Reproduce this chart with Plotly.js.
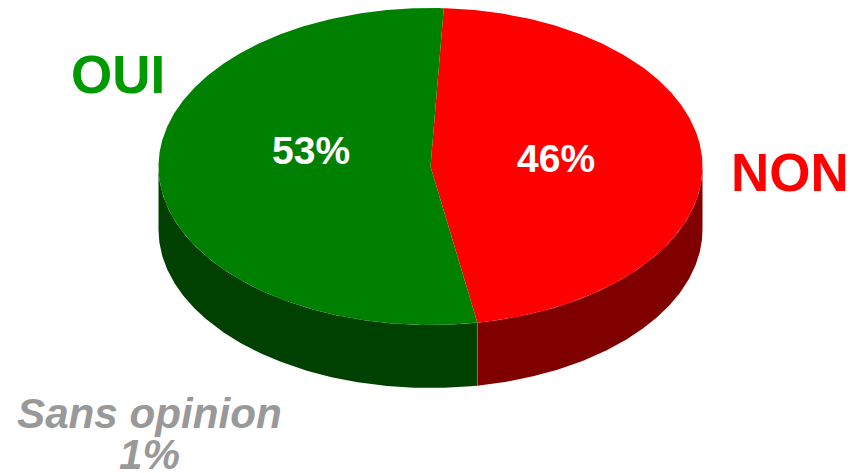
<!DOCTYPE html>
<html>
<head>
<meta charset="utf-8">
<script src="https://cdn.plot.ly/plotly-3.0.1.min.js"></script>
<style>html,body{margin:0;padding:0;background:#fff}#chart{width:850px;height:473px}</style>
</head>
<body>
<div id="chart"></div>
<script>
// Data
const sliceNames = ['NON', 'OUI'];
const sliceValues = [46, 53];
const topColors = ['#ff0000', '#008000'];
const sideColors = ['#800000', '#004000'];

// Pie geometry (scene units = pixels of the plot)
const cx = 430.5, cy = 166.5, rx = 272, ry = 158.5, depth = 63, startDeg = 2.8;
const total = sliceValues.reduce((a, b) => a + b, 0);

const px = d => cx + rx * Math.sin(d * Math.PI / 180);
const py = d => cy - ry * Math.cos(d * Math.PI / 180);

function arc(a, b) {
  const out = [];
  const n = Math.max(2, Math.ceil((b - a) / 0.5));
  for (let i = 0; i <= n; i++) out.push(a + (b - a) * i / n);
  return out;
}
function poly(xs, ys, color, name) {
  return {type: 'scatter', mode: 'lines', x: xs, y: ys, fill: 'toself', fillcolor: color,
          line: {width: 0, color: color}, hoverinfo: 'skip', name: name, showlegend: false};
}

const sideTraces = [], topTraces = [], seamTraces = [];
let angle = startDeg;
sliceValues.forEach((v, i) => {
  const a = angle, b = angle + v / total * 360;
  angle = b;
  // visible wall = front half of the ellipse (90..270 degrees)
  const fa = Math.max(a, 90), fb = Math.min(b, 270);
  if (fb > fa) {
    const d = arc(fa, fb);
    sideTraces.push(poly(
      d.map(px).concat(d.slice().reverse().map(px), [px(fa)]),
      d.map(py).concat(d.slice().reverse().map(t => py(t) + depth), [py(fa)]),
      sideColors[i], sliceNames[i] + ' side'));
  }
  if (b > 90 && b < 270) {
    seamTraces.push({type: 'scatter', mode: 'lines', x: [px(b), px(b)], y: [py(b), py(b) + depth],
                     line: {width: 1, color: '#6f7a55'}, hoverinfo: 'skip', showlegend: false});
  }
  const d = arc(a, b);
  topTraces.push(poly(
    [cx].concat(d.map(px), [cx]),
    [cy].concat(d.map(py), [cy]),
    topColors[i], sliceNames[i]));
});

const font = (size, color, italic) => ({family: 'Liberation Sans, Arial, sans-serif', size: size, color: color,
                                        weight: 700, style: italic ? 'italic' : 'normal'});
const note = (text, x, y, f) => ({text: text, x: x, y: y, xref: 'x', yref: 'y', showarrow: false,
                                  xanchor: 'center', yanchor: 'middle', font: f});

const layout = {
  width: 850, height: 473,
  margin: {l: 0, r: 0, t: 0, b: 0},
  paper_bgcolor: '#ffffff', plot_bgcolor: '#ffffff',
  showlegend: false,
  xaxis: {range: [0, 850], visible: false, fixedrange: true},
  yaxis: {range: [473, 0], visible: false, fixedrange: true},
  annotations: [
    note('<b>OUI</b>', 117.5, 74, font(53, '#009900')),
    note('<b>NON</b>', 790, 172, font(53, '#ff0000')),
    note('<b>53%</b>', 310.5, 150, font(39, '#ffffff')),
    note('<b>46%</b>', 555.5, 158, font(39, '#ffffff')),
    note('<b><i>Sans opinion</i></b>', 149, 413, font(42.2, '#999999', true)),
    note('<b><i>1%</i></b>', 149, 454, font(42.2, '#999999', true))
  ]
};
Plotly.newPlot('chart', sideTraces.concat(seamTraces, topTraces), layout, {displayModeBar: false, staticPlot: true});
</script>
</body>
</html>
